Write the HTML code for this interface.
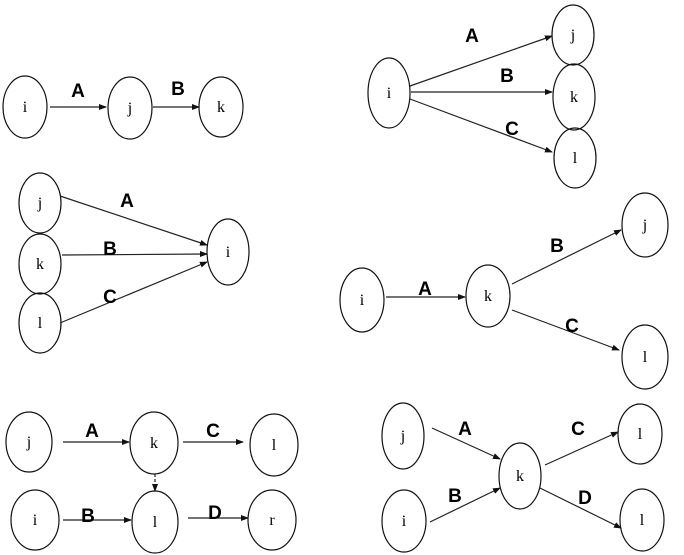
<!DOCTYPE html><html><head><style>body{margin:0;background:#fff}svg{display:block}
.n{fill:none;stroke:#111;stroke-width:1.2}.t{font-family:"Liberation Serif",serif;font-size:16px;text-anchor:middle}
.l{font-family:"Liberation Sans",sans-serif;font-weight:bold;font-size:19px;text-anchor:middle}
.e{stroke:#222;stroke-width:1.2;marker-end:url(#a)}</style></head><body>
<svg width="684" height="555" xmlns="http://www.w3.org/2000/svg">
<defs><marker id="a" markerWidth="8" markerHeight="8" refX="7" refY="4" orient="auto" markerUnits="userSpaceOnUse"><path d="M0,1 L8,4 L0,7z" fill="#111"/></marker></defs>
<!-- D1 -->
<ellipse class="n" cx="25" cy="107" rx="22" ry="31"/><text class="t" x="25" y="112">i</text>
<ellipse class="n" cx="130" cy="108" rx="22" ry="31"/><text class="t" x="130" y="113">j</text>
<ellipse class="n" cx="221" cy="107" rx="22" ry="30"/><text class="t" x="221" y="112">k</text>
<line class="e" x1="50" y1="107" x2="106" y2="107"/><line class="e" x1="153" y1="107" x2="199" y2="107"/>
<text class="l" x="78" y="97">A</text><text class="l" x="178" y="95">B</text>
<!-- D2 -->
<ellipse class="n" cx="389" cy="93" rx="21" ry="35"/><text class="t" x="389" y="98">i</text>
<ellipse class="n" cx="573" cy="35" rx="21" ry="30"/><text class="t" x="573" y="40">j</text>
<ellipse class="n" cx="574" cy="97" rx="21" ry="33"/><text class="t" x="574" y="102">k</text>
<ellipse class="n" cx="575" cy="158" rx="21" ry="30"/><text class="t" x="575" y="163">l</text>
<line class="e" x1="410" y1="86" x2="552" y2="36"/><line class="e" x1="411" y1="92" x2="552" y2="92"/><line class="e" x1="410" y1="99" x2="552" y2="152"/>
<text class="l" x="472" y="42">A</text><text class="l" x="507" y="82">B</text><text class="l" x="512" y="135">C</text>
<!-- D3 -->
<ellipse class="n" cx="40" cy="203" rx="21" ry="30"/><text class="t" x="40" y="208">j</text>
<ellipse class="n" cx="40" cy="264" rx="21" ry="30"/><text class="t" x="40" y="269">k</text>
<ellipse class="n" cx="40" cy="323" rx="21" ry="30"/><text class="t" x="40" y="328">l</text>
<ellipse class="n" cx="228" cy="252" rx="21" ry="33"/><text class="t" x="228" y="257">i</text>
<line class="e" x1="60" y1="196" x2="207" y2="245"/><line class="e" x1="62" y1="255" x2="207" y2="254"/><line class="e" x1="60" y1="323" x2="207" y2="262"/>
<text class="l" x="127" y="207">A</text><text class="l" x="110" y="255">B</text><text class="l" x="110" y="303">C</text>
<!-- D4 -->
<ellipse class="n" cx="362" cy="300" rx="22" ry="32"/><text class="t" x="362" y="305">i</text>
<ellipse class="n" cx="488" cy="296" rx="22" ry="31"/><text class="t" x="488" y="301">k</text>
<ellipse class="n" cx="645" cy="225" rx="23" ry="32"/><text class="t" x="645" y="230">j</text>
<ellipse class="n" cx="645" cy="357" rx="23" ry="32"/><text class="t" x="645" y="362">l</text>
<line class="e" x1="386" y1="297" x2="465" y2="297"/><line class="e" x1="512" y1="284" x2="621" y2="230"/><line class="e" x1="512" y1="310" x2="619" y2="350"/>
<text class="l" x="425" y="295">A</text><text class="l" x="557" y="252">B</text><text class="l" x="572" y="332">C</text>
<!-- D5 -->
<ellipse class="n" cx="29" cy="442" rx="23" ry="30"/><text class="t" x="29" y="447">j</text>
<ellipse class="n" cx="154" cy="443" rx="24" ry="31"/><text class="t" x="154" y="448">k</text>
<ellipse class="n" cx="274" cy="445" rx="24" ry="31"/><text class="t" x="274" y="450">l</text>
<ellipse class="n" cx="35" cy="520" rx="24" ry="30"/><text class="t" x="35" y="525">i</text>
<ellipse class="n" cx="155" cy="522" rx="23" ry="31"/><text class="t" x="155" y="527">l</text>
<ellipse class="n" cx="272" cy="520" rx="24" ry="30"/><text class="t" x="272" y="525">r</text>
<line class="e" x1="63" y1="442" x2="129" y2="442"/><line class="e" x1="183" y1="442" x2="243" y2="442"/>
<line class="e" x1="63" y1="520" x2="131" y2="520"/><line class="e" x1="188" y1="518" x2="248" y2="518"/>
<line class="e" x1="155" y1="474" x2="155" y2="491" stroke-dasharray="3,2"/>
<text class="l" x="92" y="437">A</text><text class="l" x="213" y="437">C</text><text class="l" x="88" y="522">B</text><text class="l" x="215" y="519">D</text>
<!-- D6 -->
<ellipse class="n" cx="403" cy="436" rx="21" ry="33"/><text class="t" x="403" y="441">j</text>
<ellipse class="n" cx="520" cy="476" rx="21" ry="33"/><text class="t" x="520" y="481">k</text>
<ellipse class="n" cx="404" cy="521" rx="22" ry="31"/><text class="t" x="404" y="526">i</text>
<ellipse class="n" cx="640" cy="434" rx="22" ry="30"/><text class="t" x="640" y="439">l</text>
<ellipse class="n" cx="642" cy="520" rx="22" ry="31"/><text class="t" x="642" y="525">l</text>
<line class="e" x1="432" y1="428" x2="500" y2="459"/><line class="e" x1="430" y1="522" x2="500" y2="488"/>
<line class="e" x1="545" y1="465" x2="618" y2="432"/><line class="e" x1="540" y1="488" x2="621" y2="528"/>
<text class="l" x="465" y="435">A</text><text class="l" x="455" y="502">B</text><text class="l" x="578" y="435">C</text><text class="l" x="585" y="504">D</text>
</svg></body></html>
